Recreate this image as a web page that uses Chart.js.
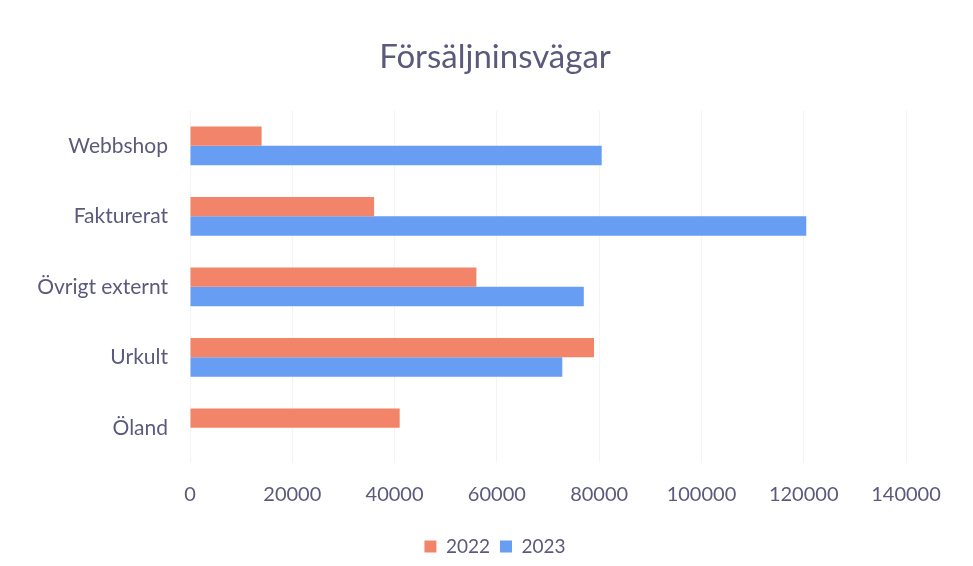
<!DOCTYPE html>
<html>
<head>
<meta charset="utf-8">
<script src="https://cdn.jsdelivr.net/npm/chart.js@4.4.1/dist/chart.umd.min.js"></script>
<style>
  html, body { margin: 0; padding: 0; background: #ffffff; }
  #wrap { width: 973px; height: 566px; position: relative; }
</style>
</head>
<body>
<div id="wrap"><canvas id="c" width="973" height="566"></canvas></div>
<script>
const categories = ["Webbshop", "Fakturerat", "Övrigt externt", "Urkult", "Öland"];
const series2022 = [14000, 36000, 56000, 79000, 41000];
const series2023 = [80500, 120500, 77000, 72800, null];
const seriesLabels = ["2022", "2023"];
const xTicks = [0, 20000, 40000, 60000, 80000, 100000, 120000, 140000];

const textColor = "#5c5a7c";
const fontFamily = "Lato, 'Noto Sans', sans-serif";

new Chart(document.getElementById("c"), {
  type: "bar",
  data: {
    labels: categories,
    datasets: [
      { label: seriesLabels[0], data: series2022, backgroundColor: "#f2846a", borderWidth: 0,
        barPercentage: 1.0, categoryPercentage: 0.55 },
      { label: seriesLabels[1], data: series2023, backgroundColor: "#679df2", borderWidth: 0,
        barPercentage: 1.0, categoryPercentage: 0.55 }
    ]
  },
  options: {
    indexAxis: "y",
    responsive: false,
    animation: false,
    layout: { padding: { left: 17, right: 0, top: 0, bottom: 0 } },
    plugins: {
      title: {
        display: true,
        text: "Försäljninsvägar",
        color: textColor,
        font: { family: fontFamily, size: 33, weight: "normal" },
        padding: { top: 38, bottom: 33 }
      },
      legend: {
        display: true,
        position: "bottom",
        labels: {
          color: textColor,
          font: { family: fontFamily, size: 19 },
          boxWidth: 12,
          boxHeight: 12,
          padding: 10
        }
      },
      tooltip: { enabled: false }
    },
    scales: {
      x: {
        type: "linear",
        min: 0,
        max: 140000,
        afterBuildTicks: (s) => { s.ticks = xTicks.map(v => ({ value: v })); },
        ticks: {
          color: textColor,
          font: { family: fontFamily, size: 20 },
          padding: 20,
          maxRotation: 0,
          callback: (v) => String(v)
        },
        grid: { color: "rgba(0,0,0,0.045)", drawTicks: false },
        border: { display: false },
        afterFit: (s) => { s.height = 64; }
      },
      y: {
        type: "category",
        ticks: {
          color: textColor,
          font: { family: fontFamily, size: 21 },
          padding: 22
        },
        grid: { display: false, drawTicks: false },
        border: { display: false },
        afterFit: (s) => { s.width = 173; }
      },
      yRight: {
        type: "linear",
        position: "right",
        display: true,
        ticks: { display: false },
        grid: { display: false, drawTicks: false },
        border: { display: false },
        afterFit: (s) => { s.width = 67; }
      }
    }
  }
});
</script>
</body>
</html>
